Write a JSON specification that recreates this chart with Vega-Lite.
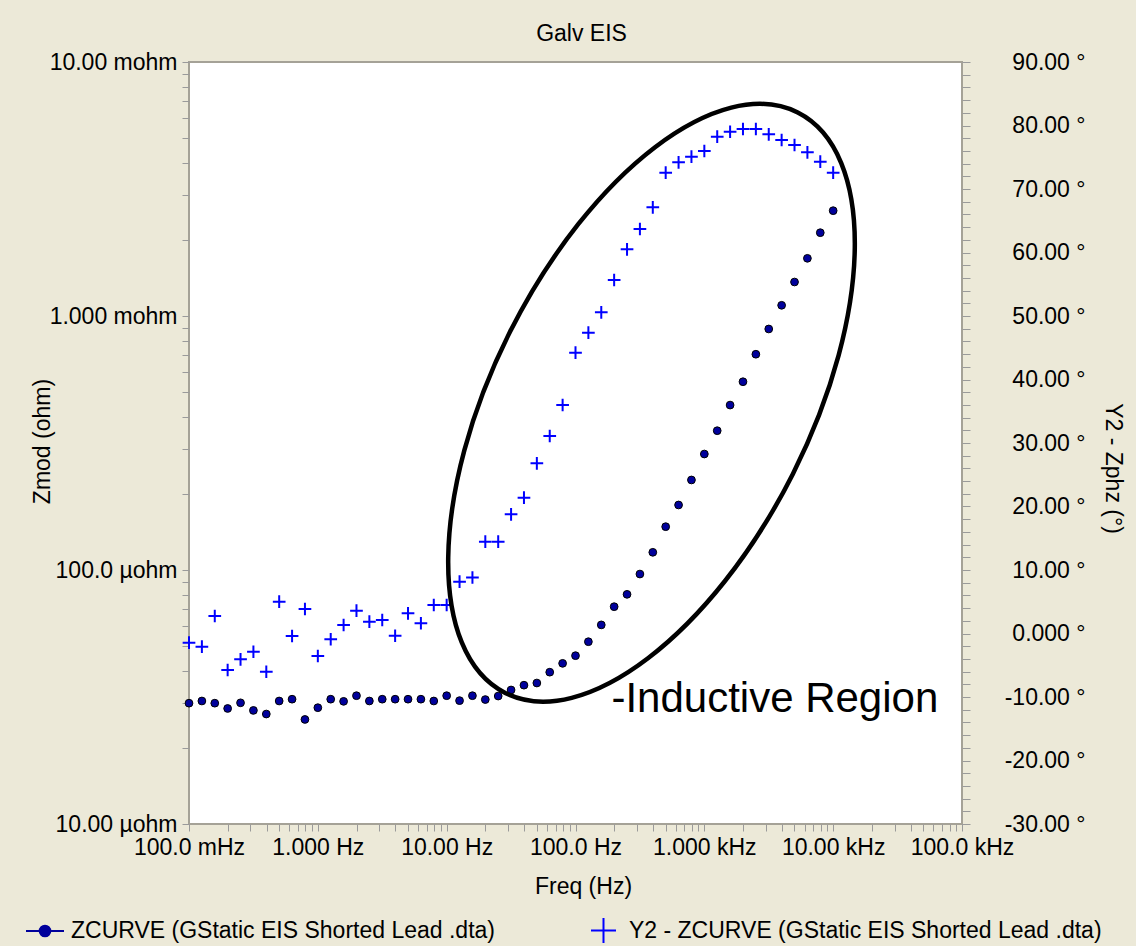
{
  "$schema": "https://vega.github.io/schema/vega-lite/v6.json",
  "width": 773,
  "height": 762,
  "autosize": "none",
  "padding": {"left": 189, "top": 62, "right": 174, "bottom": 122},
  "background": "#ECE9D8",
  "title": {"text": "Galv EIS", "fontSize": 23, "fontWeight": "normal", "font": "Liberation Sans", "color": "black", "anchor": "middle", "frame": "group", "offset": 5, "dx": 6},
  "datasets": {
    "eis": [
      {"freq": 0.1, "zmod": 2.99e-5, "phase": -1.45},
      {"freq": 0.1259, "zmod": 3.05e-5, "phase": -2.08},
      {"freq": 0.1585, "zmod": 2.99e-5, "phase": 2.76},
      {"freq": 0.1995, "zmod": 2.85e-5, "phase": -5.75},
      {"freq": 0.2512, "zmod": 3.0e-5, "phase": -4.06},
      {"freq": 0.3162, "zmod": 2.8e-5, "phase": -2.87},
      {"freq": 0.3981, "zmod": 2.71e-5, "phase": -6.02},
      {"freq": 0.5012, "zmod": 3.05e-5, "phase": 5.01},
      {"freq": 0.631, "zmod": 3.1e-5, "phase": -0.39},
      {"freq": 0.7943, "zmod": 2.58e-5, "phase": 3.86},
      {"freq": 1, "zmod": 2.87e-5, "phase": -3.54},
      {"freq": 1.259, "zmod": 3.1e-5, "phase": -0.91},
      {"freq": 1.585, "zmod": 3.04e-5, "phase": 1.34},
      {"freq": 1.995, "zmod": 3.2e-5, "phase": 3.59},
      {"freq": 2.512, "zmod": 3.05e-5, "phase": 1.86},
      {"freq": 3.162, "zmod": 3.1e-5, "phase": 2.13},
      {"freq": 3.981, "zmod": 3.1e-5, "phase": -0.35},
      {"freq": 5.012, "zmod": 3.1e-5, "phase": 3.18},
      {"freq": 6.31, "zmod": 3.1e-5, "phase": 1.61},
      {"freq": 7.943, "zmod": 3.05e-5, "phase": 4.49},
      {"freq": 10, "zmod": 3.2e-5, "phase": 4.49},
      {"freq": 12.59, "zmod": 3.06e-5, "phase": 8.16},
      {"freq": 15.85, "zmod": 3.2e-5, "phase": 8.82},
      {"freq": 19.95, "zmod": 3.09e-5, "phase": 14.46},
      {"freq": 25.12, "zmod": 3.19e-5, "phase": 14.46},
      {"freq": 31.62, "zmod": 3.37e-5, "phase": 18.77},
      {"freq": 39.81, "zmod": 3.52e-5, "phase": 21.39},
      {"freq": 50.12, "zmod": 3.59e-5, "phase": 26.8},
      {"freq": 63.1, "zmod": 3.96e-5, "phase": 31.1},
      {"freq": 79.43, "zmod": 4.29e-5, "phase": 35.98},
      {"freq": 100, "zmod": 4.6e-5, "phase": 44.22},
      {"freq": 125.9, "zmod": 5.22e-5, "phase": 47.37},
      {"freq": 158.5, "zmod": 6.08e-5, "phase": 50.58},
      {"freq": 199.5, "zmod": 7.17e-5, "phase": 55.67},
      {"freq": 251.2, "zmod": 8.02e-5, "phase": 60.5},
      {"freq": 316.2, "zmod": 9.64e-5, "phase": 63.7},
      {"freq": 398.1, "zmod": 1.174e-4, "phase": 67.12},
      {"freq": 501.2, "zmod": 1.481e-4, "phase": 72.57},
      {"freq": 631, "zmod": 1.803e-4, "phase": 74.2},
      {"freq": 794.3, "zmod": 2.262e-4, "phase": 75.09},
      {"freq": 1000, "zmod": 2.862e-4, "phase": 75.98},
      {"freq": 1259, "zmod": 3.535e-4, "phase": 78.24},
      {"freq": 1585, "zmod": 4.46e-4, "phase": 79.02},
      {"freq": 1995, "zmod": 5.51e-4, "phase": 79.45},
      {"freq": 2512, "zmod": 7.07e-4, "phase": 79.45},
      {"freq": 3162, "zmod": 8.89e-4, "phase": 78.61},
      {"freq": 3981, "zmod": 1.102e-3, "phase": 77.72},
      {"freq": 5012, "zmod": 1.361e-3, "phase": 76.93},
      {"freq": 6310, "zmod": 1.687e-3, "phase": 75.78},
      {"freq": 7943, "zmod": 2.128e-3, "phase": 74.3},
      {"freq": 10000, "zmod": 2.598e-3, "phase": 72.57}
    ]
  },
  "layer": [
    {
      "data": {"name": "eis"},
      "mark": {"type": "point", "filled": true, "size": 60, "stroke": "#000000", "strokeWidth": 1, "opacity": 1},
      "encoding": {
        "x": {
          "field": "freq", "type": "quantitative",
          "scale": {"type": "log", "domain": [0.1, 100000], "nice": false},
          "axis": {
            "orient": "bottom",
            "title": "Freq (Hz)",
            "values": [0.1,0.2,0.3,0.4,0.5,0.6,0.7,0.8,0.9,1,2,3,4,5,6,7,8,9,10,20,30,40,50,60,70,80,90,100,200,300,400,500,600,700,800,900,1000,2000,3000,4000,5000,6000,7000,8000,9000,10000,20000,30000,40000,50000,60000,70000,80000,90000,100000],
            "labelExpr": "abs(datum.value / pow(10, round(log(datum.value) / LN10)) - 1) < 0.001 ? ['100.0 mHz','1.000 Hz','10.00 Hz','100.0 Hz','1.000 kHz','10.00 kHz','100.0 kHz'][round(log(datum.value) / LN10) + 1] : ''",
            "tickSize": 7,
            "labelPadding": 5,
            "titleX": 394,
            "titleY": 62,
            "titleAlign": "center",
            "titleBaseline": "middle"
          }
        },
        "y": {
          "field": "zmod", "type": "quantitative",
          "scale": {"type": "log", "domain": [0.00001, 0.01], "nice": false},
          "axis": {
            "orient": "left",
            "title": "Zmod (ohm)",
            "values": [0.00001,0.00002,0.00003,0.00004,0.00005,0.00006,0.00007,0.00008,0.00009,0.0001,0.0002,0.0003,0.0004,0.0005,0.0006,0.0007,0.0008,0.0009,0.001,0.002,0.003,0.004,0.005,0.006,0.007,0.008,0.009,0.01],
            "labelExpr": "abs(datum.value / pow(10, round(log(datum.value) / LN10)) - 1) < 0.001 ? ['10.00 µohm','100.0 µohm','1.000 mohm','10.00 mohm'][round(log(datum.value) / LN10) + 5] : ''",
            "tickSize": 7,
            "labelPadding": 5,
            "labelBaseline": "middle",
            "titleAngle": -90,
            "titleX": -147,
            "titleY": 379,
            "titleAlign": "center",
            "titleBaseline": "middle"
          }
        },
        "color": {
          "datum": "ZCURVE (GStatic EIS Shorted Lead .dta)",
          "type": "nominal",
          "scale": {"domain": ["ZCURVE (GStatic EIS Shorted Lead .dta)"], "range": ["#00009C"]},
          "legend": {
            "orient": "none",
            "legendX": -164,
            "legendY": 849,
            "direction": "horizontal",
            "title": null,
            "padding": 0,
            "symbolType": "M-1,0L-0.28,0M0.28,0L1,0M-0.28,0C-0.28,-0.155 -0.155,-0.28 0,-0.28C0.155,-0.28 0.28,-0.155 0.28,0C0.28,0.155 0.155,0.28 0,0.28C-0.155,0.28 -0.28,0.155 -0.28,0Z",
            "symbolSize": 1444,
            "symbolStrokeWidth": 2,
            "symbolStrokeColor": "#00009C",
            "symbolFillColor": "#00009C",
            "symbolOpacity": 1,
            "labelFontSize": 23,
            "labelFont": "Liberation Sans",
            "labelColor": "black",
            "labelLimit": 1000,
            "labelOffset": 6
          }
        }
      }
    },
    {
      "data": {"name": "eis"},
      "mark": {"type": "point", "filled": false, "color": "#0000FF", "size": 161, "strokeWidth": 2, "opacity": 1},
      "encoding": {
        "x": {"field": "freq", "type": "quantitative", "scale": {"type": "log", "domain": [0.1, 100000], "nice": false}},
        "y": {
          "field": "phase", "type": "quantitative",
          "scale": {"domain": [-30, 90], "nice": false, "zero": false},
          "axis": {
            "orient": "right",
            "title": "Y2 - Zphz (°)",
            "values": [-30,-28,-26,-24,-22,-20,-18,-16,-14,-12,-10,-8,-6,-4,-2,0,2,4,6,8,10,12,14,16,18,20,22,24,26,28,30,32,34,36,38,40,42,44,46,48,50,52,54,56,58,60,62,64,66,68,70,72,74,76,78,80,82,84,86,88,90],
            "labelExpr": "datum.value % 10 == 0 ? (datum.value == 0 ? '0.000 °' : (datum.value < 0 ? '-' : '') + format(abs(datum.value), '.2f') + ' °') : ''",
            "tickSize": 8,
            "labelAlign": "right",
            "labelBaseline": "middle",
            "labelPadding": 115,
            "titleAngle": 90,
            "titleX": 150,
            "titleY": 406,
            "titleAlign": "center",
            "titleBaseline": "middle"
          }
        },
        "shape": {
          "datum": "Y2 - ZCURVE (GStatic EIS Shorted Lead .dta)",
          "type": "nominal",
          "scale": {"domain": ["Y2 - ZCURVE (GStatic EIS Shorted Lead .dta)"], "range": ["M-1,0L1,0M0,-1L0,1"]},
          "legend": {
            "orient": "none",
            "legendX": 401,
            "legendY": 855,
            "direction": "horizontal",
            "title": null,
            "padding": 0,
            "symbolSize": 625,
            "symbolStrokeWidth": 2,
            "symbolStrokeColor": "#0000FF",
            "symbolFillColor": "transparent",
            "symbolOpacity": 1,
            "labelFontSize": 23,
            "labelFont": "Liberation Sans",
            "labelColor": "black",
            "labelLimit": 1000,
            "labelOffset": 12
          }
        }
      }
    },
    {
      "data": {"values": [{"freq": 389, "phase": 36.34}]},
      "mark": {"type": "point", "shape": "M0.450,-0.893C0.690,-0.772 0.683,-0.274 0.435,0.219C0.186,0.712 -0.210,1.014 -0.450,0.893C-0.690,0.772 -0.683,0.274 -0.435,-0.219C-0.186,-0.712 0.210,-1.014 0.450,-0.893Z", "filled": false, "size": 422500, "stroke": "#000000", "strokeWidth": 4.5, "opacity": 1},
      "encoding": {
        "x": {"field": "freq", "type": "quantitative", "scale": {"type": "log", "domain": [0.1, 100000], "nice": false}},
        "y": {"field": "phase", "type": "quantitative", "scale": {"domain": [-30, 90], "nice": false, "zero": false}, "axis": null}
      }
    },
    {
      "data": {"values": [{"freq": 190, "phase": -12.3, "label": "-Inductive Region"}]},
      "mark": {"type": "text", "align": "left", "baseline": "alphabetic", "fontSize": 42, "font": "Liberation Sans", "color": "#000000"},
      "encoding": {
        "x": {"field": "freq", "type": "quantitative", "scale": {"type": "log", "domain": [0.1, 100000], "nice": false}},
        "y": {"field": "phase", "type": "quantitative", "scale": {"domain": [-30, 90], "nice": false, "zero": false}, "axis": null},
        "text": {"field": "label"}
      }
    }
  ],
  "resolve": {"scale": {"y": "independent"}},
  "config": {
    "background": "#ECE9D8",
    "font": "Liberation Sans",
    "view": {"fill": "#FFFFFF", "stroke": "#A5A297", "strokeWidth": 2},
    "axis": {
      "grid": false,
      "domain": false,
      "ticks": true,
      "tickColor": "#9A9A9A",
      "tickWidth": 1,
      "labelFontSize": 23,
      "labelFont": "Liberation Sans",
      "labelColor": "#000000",
      "titleFontSize": 23,
      "titleFont": "Liberation Sans",
      "titleFontWeight": "normal",
      "titleColor": "#000000",
      "labelOverlap": false,
      "labelFlush": false,
      "labelBound": false
    }
  }
}
